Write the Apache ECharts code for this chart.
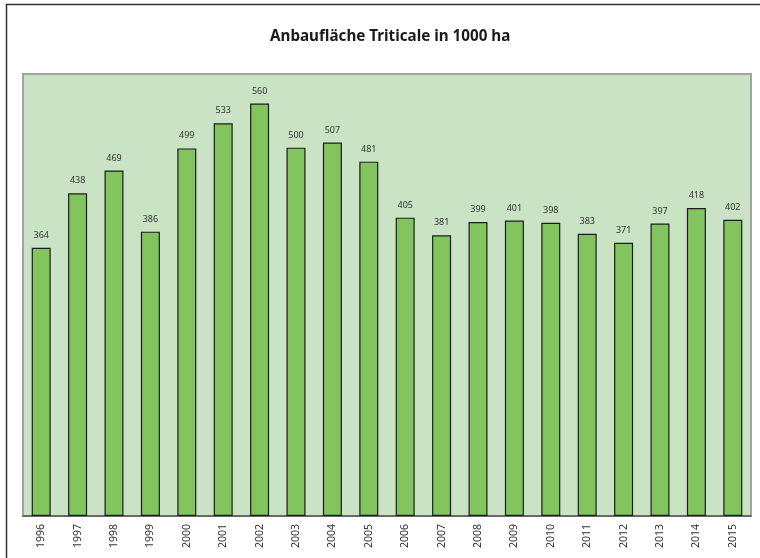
<!DOCTYPE html>
<html>
<head>
<meta charset="utf-8">
<script src="https://cdn.jsdelivr.net/npm/echarts@6/dist/echarts.min.js"></script>
<style>
  html, body { margin: 0; padding: 0; background: #fff; }
  #chart { width: 760px; height: 558px; }
</style>
</head>
<body>
<div id="chart"></div>
<script>
const years = ["1996", "1997", "1998", "1999", "2000", "2001", "2002", "2003", "2004", "2005",
  "2006", "2007", "2008", "2009", "2010", "2011", "2012", "2013", "2014", "2015"];
const area = [364, 438, 469, 386, 499, 533, 560, 500, 507, 481,
  405, 381, 399, 401, 398, 383, 371, 397, 418, 402];

const chart = echarts.init(document.getElementById("chart"));
chart.setOption({
  animation: false,
  title: {
    text: "Anbaufläche Triticale in 1000 ha",
    left: 265,
    top: 24,
    textStyle: { fontFamily: "Noto Sans", fontSize: 15.2, fontWeight: "bold", color: "#1a1a1a" }
  },
  // outer frame, only left/top are inside the picture
  graphic: [{
    type: "rect",
    shape: { x: 6.5, y: 4.5, width: 800, height: 600 },
    style: { fill: null, stroke: "#333", lineWidth: 1.5 },
    silent: true
  }],
  grid: {
    left: 23, right: 9, top: 74, bottom: 42,
    show: true,
    backgroundColor: "#c9e3c4",
    borderColor: "#a3a3a3",
    borderWidth: 2
  },
  xAxis: {
    type: "category",
    data: years,
    axisLine: { lineStyle: { color: "#555", width: 1.5 } },
    axisTick: { show: false },
    axisLabel: { rotate: 90, fontFamily: "Noto Sans", fontSize: 10.5, color: "#333", margin: 8 }
  },
  yAxis: {
    type: "value",
    min: 0,
    max: 600,
    show: false,
    splitLine: { show: false }
  },
  series: [{
    type: "bar",
    data: area,
    barWidth: 19,
    itemStyle: { color: "#82c45d", borderColor: "#1c1c1c", borderWidth: 1.2 },
    label: {
      show: true,
      position: "top",
      distance: 8,
      fontFamily: "Noto Sans",
      fontSize: 9,
      color: "#333"
    }
  }]
});
</script>
</body>
</html>
